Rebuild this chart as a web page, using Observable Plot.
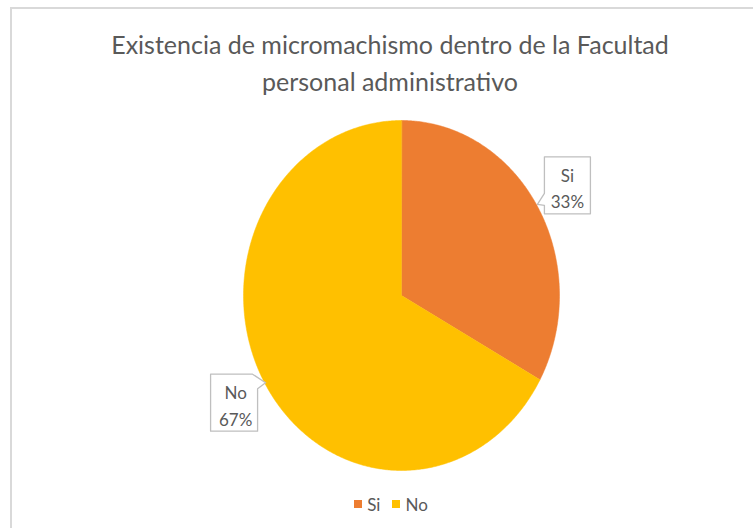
<!DOCTYPE html>
<html>
<head>
<meta charset="utf-8">
<script src="https://cdn.jsdelivr.net/npm/d3@7"></script>
<script src="https://cdn.jsdelivr.net/npm/@observablehq/plot@0.6"></script>
<style>
  body { margin: 0; background: #fff; }
  #wrap { position: relative; width: 753px; height: 528px; overflow: hidden; font-family: Lato, "Open Sans", sans-serif; color: #595959; }
  #frame { position: absolute; left: 10px; top: 7px; width: 900px; height: 700px; border-top: 2px solid #d9d9d9; border-left: 2px solid #d9d9d9; }
  #title { position: relative; width: 780px; text-align: center; padding-top: 26px; font-size: 25px; line-height: 37px; height: 74px; }
  #chart { position: relative; }
  #legend { position: relative; width: 782px; height: 48px; display: flex; justify-content: center; align-items: center; font-size: 17px; gap: 0; }
  .key { display: inline-flex; align-items: center; margin: 0 6px; }
  .sw { width: 8px; height: 8px; margin-right: 5px; }
</style>
</head>
<body>
<div id="wrap">
  <div id="frame"></div>
  <div id="title">Existencia de micromachismo dentro de la Facultad<br>personal administrativo</div>
  <div id="chart"></div>
  <div id="legend"></div>
</div>
<script>
// ---- data ----
const categories = ["Si", "No"];
const values = [33, 67];
const percentLabels = ["33%", "67%"];
const colors = ["#ED7D31", "#FFC000"];

// ---- build slices ----
const rows = categories.map((c, i) => ({category: c, value: values[i], pct: percentLabels[i]}));
const arcs = d3.pie().sort(null).value(d => d.value)(rows);

const slicePts = [];
for (const a of arcs) {
  slicePts.push({category: a.data.category, x: 0, y: 0});
  const n = Math.max(2, Math.ceil((a.endAngle - a.startAngle) / (Math.PI / 360)));
  for (let k = 0; k <= n; k++) {
    const t = a.startAngle + (a.endAngle - a.startAngle) * k / n;
    slicePts.push({category: a.data.category, x: Math.sin(t), y: Math.cos(t)});
  }
}

// label anchors along the mid-angle, outside the pie
const labelR = 1.22;
const labels = arcs.map(a => {
  const m = (a.startAngle + a.endAngle) / 2;
  return {category: a.data.category, text: a.data.category + "\n" + a.data.pct, x: labelR * Math.sin(m), y: labelR * Math.cos(m)};
});

// callout shapes (pixel offsets from label centre), pointer toward the pie
const pxX = 158, pxY = 175;
const calloutShape = {
  Si: [[-23,-30],[23,-30],[23,27],[-23,27],[-23,18.5],[-30,17.5],[-23,6.5]],
  No: [[-25,-30],[17,-30],[30,-21.5],[22,-15.5],[22,27],[-25,27]]
};
const calloutPts = [];
for (const l of labels) {
  for (const [dx, dy] of calloutShape[l.category]) {
    calloutPts.push({category: l.category, x: l.x + dx / pxX, y: l.y - dy / pxY});
  }
}

const chart = Plot.plot({
  width: 753,
  height: 380,
  margin: 0,
  style: {background: "transparent", fontFamily: "Lato, 'Open Sans', sans-serif"},
  x: {domain: [-1, 1], range: [243, 559], axis: null},
  y: {domain: [-1, 1], range: [370, 20], axis: null},
  color: {domain: categories, range: colors},
  marks: [
    Plot.line(slicePts, {x: "x", y: "y", z: "category", fill: "category", stroke: "category", strokeWidth: 0.5, curve: "linear-closed"}),
    Plot.line(calloutPts, {x: "x", y: "y", z: "category", curve: "linear-closed", fill: "white", stroke: "#bfbfbf", strokeWidth: 1.3}),
    Plot.text(labels, {x: "x", y: "y", text: "text", fontSize: 17, lineHeight: 1.55, fill: "#595959"})
  ]
});
chart.style.display = "block";
document.getElementById("chart").appendChild(chart);

// legend
const legend = document.getElementById("legend");
categories.forEach((c, i) => {
  const k = document.createElement("span");
  k.className = "key";
  const sw = document.createElement("span");
  sw.className = "sw";
  sw.style.background = colors[i];
  k.appendChild(sw);
  k.appendChild(document.createTextNode(c));
  legend.appendChild(k);
});
</script>
</body>
</html>
